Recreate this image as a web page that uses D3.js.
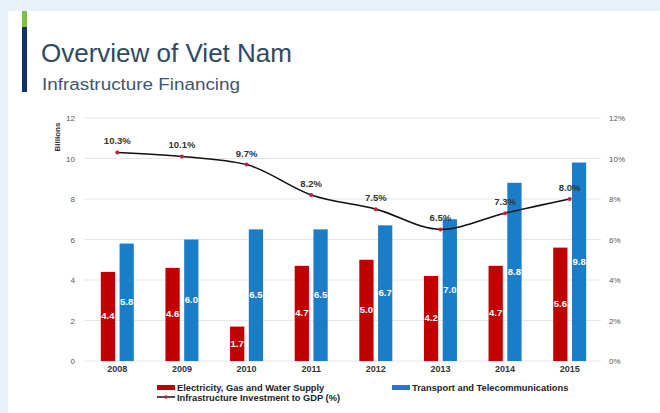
<!DOCTYPE html>
<html>
<head>
<meta charset="utf-8">
<script src="https://cdn.jsdelivr.net/npm/d3@7/dist/d3.min.js"></script>
<style>
  html, body { margin: 0; padding: 0; background: #e9f1fa; }
  svg { display: block; font-family: "Liberation Sans", Arial, sans-serif; }
</style>
</head>
<body>
<svg id="chart" width="660" height="413"></svg>
<script>
// Infrastructure financing, Viet Nam 2008–2015
const years = ["2008", "2009", "2010", "2011", "2012", "2013", "2014", "2015"];
const electricity = [4.4, 4.6, 1.7, 4.7, 5.0, 4.2, 4.7, 5.6];   // billions
const transport = [5.8, 6.0, 6.5, 6.5, 6.7, 7.0, 8.8, 9.8];     // billions
const investToGdp = [10.3, 10.1, 9.7, 8.2, 7.5, 6.5, 7.3, 8.0]; // percent
const leftTicks = [0, 2, 4, 6, 8, 10, 12];
const rightTicks = [0, 2, 4, 6, 8, 10, 12];
const seriesNames = ["Electricity, Gas and Water Supply", "Transport and Telecommunications", "Infrastructure Investment to GDP (%)"];
const colors = { electricity: "#c00000", transport: "#1a7dc8", line: "#111111" };

const svg = d3.select("#chart");

// white card
svg.append("rect").attr("x", 8).attr("y", 11).attr("width", 652).attr("height", 402).attr("fill", "#ffffff");

// accent bar beside the heading
svg.append("rect").attr("x", 22).attr("y", 11).attr("width", 5).attr("height", 16).attr("fill", "#7cc242");
svg.append("rect").attr("x", 22).attr("y", 27).attr("width", 5).attr("height", 65).attr("fill", "#13306a");

svg.append("text").attr("x", 41).attr("y", 62)
  .attr("font-size", 26).attr("fill", "#2e4a62")
  .text("Overview of Viet Nam");
svg.append("text").attr("transform", "translate(42,90) scale(1.11,1)")
  .attr("font-size", 17).attr("fill", "#3d566e")
  .text("Infrastructure Financing");

// scales
const x = d3.scaleBand().domain(years).range([85, 602]).padding(0);
const keys = ["electricity", "transport"];
const x1 = d3.scaleBand().domain(keys).range([-16.5, 16.5]).paddingInner(0.24);
const y = d3.scaleLinear().domain([0, 12]).range([361, 118]);
const y2 = d3.scaleLinear().domain([0, 12]).range([361, 118]);

// gridlines
svg.append("g").selectAll("line").data(leftTicks).join("line")
  .attr("x1", 84).attr("x2", 601)
  .attr("y1", d => y(d)).attr("y2", d => y(d))
  .attr("stroke", "#e6e6e6").attr("stroke-width", 1);

// left axis
const yAxis = d3.axisLeft(y).tickValues(leftTicks).tickSize(0).tickPadding(0);
const gl = svg.append("g").attr("transform", "translate(75,0)").call(yAxis);
gl.select(".domain").remove();
gl.selectAll("text").attr("font-size", 8).attr("fill", "#555").attr("font-family", "'Liberation Sans', Arial, sans-serif");

// right axis
const yAxisR = d3.axisRight(y2).tickValues(rightTicks).tickSize(0).tickPadding(0).tickFormat(d => d + "%");
const gr = svg.append("g").attr("transform", "translate(609,0)").call(yAxisR);
gr.select(".domain").remove();
gr.selectAll("text").attr("font-size", 8).attr("fill", "#555").attr("font-family", "'Liberation Sans', Arial, sans-serif");

// x axis labels
const xAxis = d3.axisBottom(x).tickSize(0).tickPadding(0);
const gx = svg.append("g").attr("transform", "translate(0,366)").call(xAxis);
gx.select(".domain").remove();
gx.selectAll("text").attr("font-size", 9).attr("font-weight", "bold").attr("fill", "#333")
  .attr("font-family", "'Liberation Sans', Arial, sans-serif");

svg.append("text")
  .attr("transform", "translate(60,137) rotate(-90)")
  .attr("text-anchor", "middle").attr("font-size", 8).attr("font-weight", "bold").attr("fill", "#333")
  .text("Billions");

// bars
const rows = years.map((yr, i) => ({ year: yr, electricity: electricity[i], transport: transport[i] }));
const groups = svg.append("g").selectAll("g").data(rows).join("g")
  .attr("transform", d => `translate(${x(d.year) + x.bandwidth() / 2},0)`);

groups.selectAll("rect").data(d => keys.map(k => ({ key: k, value: d[k] }))).join("rect")
  .attr("x", d => x1(d.key))
  .attr("width", x1.bandwidth())
  .attr("y", d => y(d.value))
  .attr("height", d => y(0) - y(d.value))
  .attr("fill", d => colors[d.key]);

groups.selectAll("text").data(d => keys.map(k => ({ key: k, value: d[k] }))).join("text")
  .attr("x", d => x1(d.key) + x1.bandwidth() / 2)
  .attr("y", d => (y(d.value) + y(0)) / 2 + 3)
  .attr("text-anchor", "middle")
  .attr("font-size", 9.5).attr("font-weight", "bold").attr("fill", "#ffffff")
  .text(d => d.value.toFixed(1));

// line series on right axis
const pts = years.map((yr, i) => ({ year: yr, v: investToGdp[i] }));
const line = d3.line()
  .x(d => x(d.year) + x.bandwidth() / 2)
  .y(d => y2(d.v))
  .curve(d3.curveMonotoneX);
svg.append("path").datum(pts).attr("d", line)
  .attr("fill", "none").attr("stroke", colors.line).attr("stroke-width", 1.6);
svg.append("g").selectAll("circle").data(pts).join("circle")
  .attr("cx", d => x(d.year) + x.bandwidth() / 2)
  .attr("cy", d => y2(d.v))
  .attr("r", 2).attr("fill", "#c0203a");
svg.append("g").selectAll("text").data(pts).join("text")
  .attr("x", d => x(d.year) + x.bandwidth() / 2)
  .attr("y", d => y2(d.v) - 8)
  .attr("text-anchor", "middle")
  .attr("font-size", 9.5).attr("font-weight", "bold").attr("fill", "#333")
  .text(d => d.v.toFixed(1) + "%");

// legend
const legend = svg.append("g").attr("font-size", 9.3).attr("font-weight", "bold").attr("fill", "#222");
legend.append("rect").attr("x", 157).attr("y", 385).attr("width", 18).attr("height", 5).attr("fill", colors.electricity);
legend.append("text").attr("x", 177).attr("y", 391).text(seriesNames[0]);
legend.append("rect").attr("x", 392).attr("y", 385).attr("width", 18).attr("height", 5).attr("fill", colors.transport);
legend.append("text").attr("x", 412).attr("y", 391).text(seriesNames[1]);
legend.append("line").attr("x1", 157).attr("x2", 175).attr("y1", 397).attr("y2", 397)
  .attr("stroke", colors.line).attr("stroke-width", 1.5);
legend.append("circle").attr("cx", 166).attr("cy", 397).attr("r", 1.8).attr("fill", "#c0203a");
legend.append("text").attr("x", 177).attr("y", 401).text(seriesNames[2]);
</script>
</body>
</html>
